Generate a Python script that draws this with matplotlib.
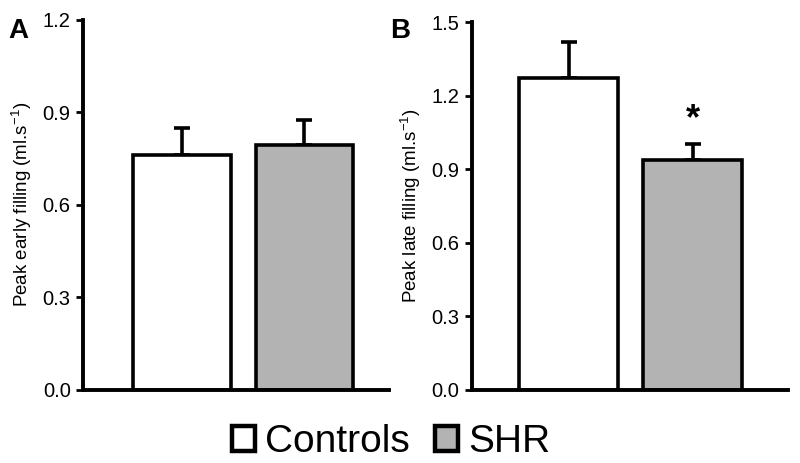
import matplotlib.pyplot as plt
from matplotlib.patches import Patch

plt.rcParams['font.family'] = ['Liberation Sans', 'DejaVu Sans']

groups = ["Controls", "SHR"]
colors = ["#ffffff", "#b3b3b3"]

early_mean = [0.762, 0.795]
early_err = [0.088, 0.081]
late_mean = [1.272, 0.938]
late_err = [0.146, 0.065]

fig = plt.figure(figsize=(8.0, 4.63), dpi=100)
ax_a = fig.add_axes([0.104, 0.158, 0.382, 0.799])
ax_b = fig.add_axes([0.590, 0.158, 0.395, 0.794])


def draw_panel(ax, means, errs, ymax, ticks, ylabel, xlim):
    x = [0, 1]
    ax.bar(x, means, width=0.8, color=colors, edgecolor="black", linewidth=2.6,
           zorder=2)
    ax.errorbar(x, means, yerr=[[0, 0], errs], fmt="none", ecolor="black",
                elinewidth=2.6, capsize=6, capthick=2.6, zorder=1)
    ax.set_xlim(*xlim)
    ax.set_ylim(0, ymax)
    ax.set_yticks(ticks)
    ax.set_yticklabels([f"{t:.1f}" for t in ticks], fontsize=14.5)
    ax.set_xticks([])
    for side in ("top", "right"):
        ax.spines[side].set_visible(False)
    for side in ("left", "bottom"):
        ax.spines[side].set_linewidth(2.8)
    ax.spines["left"].set_bounds(0, ymax)
    ax.tick_params(axis="y", length=5, width=2, direction="out", pad=4)
    ax.set_ylabel(ylabel, fontsize=13.5, labelpad=6)


draw_panel(ax_a, early_mean, early_err, 1.2, [0.0, 0.3, 0.6, 0.9, 1.2],
           r"Peak early filling (ml.s$^{\mathregular{-1}}$)", (-0.81, 1.69))
draw_panel(ax_b, late_mean, late_err, 1.5, [0.0, 0.3, 0.6, 0.9, 1.2, 1.5],
           r"Peak late filling (ml.s$^{\mathregular{-1}}$)", (-0.78, 1.77))

fig.text(0.011, 0.934, "A", fontsize=20, fontweight="bold", ha="left", va="center")
fig.text(0.488, 0.934, "B", fontsize=20, fontweight="bold", ha="left", va="center")

ax_b.text(1, late_mean[1] + late_err[1] + 0.10, "*", ha="center", va="center",
          fontsize=26, fontweight="bold")

handles = [Patch(facecolor=c, edgecolor="black", linewidth=3.2) for c in colors]
fig.legend(handles, groups, loc="center", bbox_to_anchor=(0.489, 0.045), ncol=2,
           frameon=False, fontsize=28, handlelength=0.6, handleheight=0.6,
           handletextpad=0.25, columnspacing=0.65)

fig.savefig("out.png", dpi=100)
